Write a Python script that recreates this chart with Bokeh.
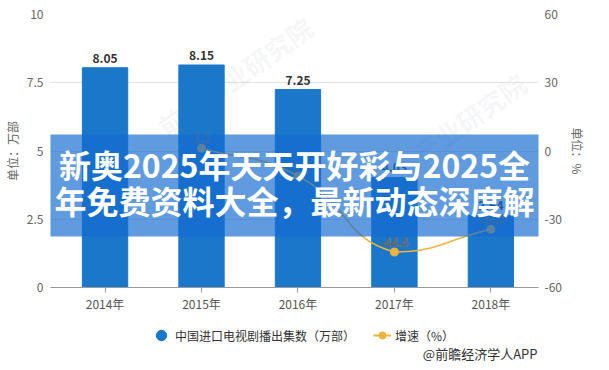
import math
from bokeh.plotting import figure
from bokeh.layouts import column
from bokeh.models import (Range1d, LinearAxis, Label, BoxAnnotation, Legend,
                          LegendItem, FixedTicker, ColumnDataSource)
from bokeh.core.properties import value
from bokeh.embed import file_html
from bokeh.resources import INLINE

# ---------------- data ----------------
years = ["2014年", "2015年", "2016年", "2017年", "2018年"]
counts = [8.05, 8.15, 7.25, 4.03, 2.64]
count_labels = ["8.05", "8.15", "7.25", "4.03", "2.64"]
growth_idx = [1, 2, 3, 4]
growth = [1.2, -11.0, -44.4, -34.4]
growth_labels = ["1.2", "-11", "-44.4", "-34.4"]
left_ticks = [0, 2.5, 5, 7.5, 10]
left_tick_labels = ["0", "2.5", "5", "7.5", "10"]
right_ticks = [-60, -30, 0, 30, 60]
right_tick_labels = ["-60", "-30", "0", "30", "60"]
series_names = ["中国进口电视剧播出集数（万部）", "增速（%）"]
left_unit = "单位：万部"
right_unit = "单位：%"
banner_lines = ["新奥2025年天天开好彩与2025全", "年免费资料大全，最新动态深度解"]
footer = "@前瞻经济学人APP"
watermark = "前瞻产业研究院"

# ---------------- style / layout ----------------
FONT = "Noto Sans CJK SC"
bar_color = "#1a77c9"
line_color = "#f0b43a"
W, H1, H2 = 593, 316, 46
BL, BR = 46, 55                 # side borders of the main plot
FL, FR = 8 + BL, 8 + W - BR     # frame edges in page pixels
PXX = 97.25                     # px per category step
X0 = -(109 - FL) / PXX
X1 = X0 + (FR - FL) / PXX
PXY = 273 / 10.0                # px per left-axis unit


def cx(px):   # page x -> data x (annotation placement)
    return X0 + (px - FL) / PXX


def cy(py):   # page y -> data y
    return (287 - py) / PXY


p = figure(width=W, height=H1, output_backend="svg", toolbar_location=None,
           x_range=Range1d(X0, X1), y_range=Range1d(0, 10),
           min_border_left=BL, min_border_right=BR, min_border_top=14,
           min_border_bottom=29)
p.outline_line_color = None
p.background_fill_color = "white"
p.extra_y_ranges = {"g": Range1d(-60, 60)}

xs = list(range(len(years)))

# watermarks (very faint)
for (wx, wy) in [(240, 76), (455, 132)]:
    p.add_layout(Label(x=cx(wx), y=cy(wy), text=watermark, angle=0.62,
                       text_align="center", text_baseline="middle",
                       text_font=FONT, text_font_size="26px", text_font_style="bold",
                       text_color="#9aa3ad", text_alpha=0.10, level="underlay"))

# bars
src = ColumnDataSource(dict(x=xs, top=counts, lab=count_labels))
p.vbar(x="x", top="top", width=0.47, source=src, color=bar_color)
p.text(x="x", y="top", text="lab", source=src, text_align="center",
       text_baseline="bottom", y_offset=-5, text_font=value(FONT),
       text_font_size="12px", text_font_style="bold", text_color="#333333")

# smooth growth line (echarts-like bezier through the data points)
gx = growth_idx
gy = growth
sx, sy = PXX, 273.0 / 120.0
smooth = 0.5
cps = []
n = len(gx)
for i in range(n):
    pi = (gx[i], gy[i])
    prev = (gx[i - 1], gy[i - 1]) if i > 0 else pi
    nxt = (gx[i + 1], gy[i + 1]) if i < n - 1 else pi
    vx, vy = (nxt[0] - prev[0]) * smooth, (nxt[1] - prev[1]) * smooth
    d0 = math.hypot((pi[0] - prev[0]) * sx, (pi[1] - prev[1]) * sy)
    d1 = math.hypot((nxt[0] - pi[0]) * sx, (nxt[1] - pi[1]) * sy)
    tot = d0 + d1 if d0 + d1 > 0 else 1
    cin = (pi[0] - vx * d0 / tot, pi[1] - vy * d0 / tot)
    cout = (pi[0] + vx * d1 / tot, pi[1] + vy * d1 / tot)
    cin = (cin[0], min(max(cin[1], min(pi[1], prev[1])), max(pi[1], prev[1])))
    cout = (cout[0], min(max(cout[1], min(pi[1], nxt[1])), max(pi[1], nxt[1])))
    cps.append((cin, cout))
bz = dict(x0=[], y0=[], x1=[], y1=[], cx0=[], cy0=[], cx1=[], cy1=[])
for i in range(n - 1):
    bz["x0"].append(gx[i]); bz["y0"].append(gy[i])
    bz["x1"].append(gx[i + 1]); bz["y1"].append(gy[i + 1])
    bz["cx0"].append(cps[i][1][0]); bz["cy0"].append(cps[i][1][1])
    bz["cx1"].append(cps[i + 1][0][0]); bz["cy1"].append(cps[i + 1][0][1])
p.bezier(x0="x0", y0="y0", x1="x1", y1="y1", cx0="cx0", cy0="cy0", cx1="cx1",
         cy1="cy1", source=ColumnDataSource(bz), line_color=line_color,
         line_width=1.6, y_range_name="g")
gsrc = ColumnDataSource(dict(x=gx, y=gy, lab=growth_labels))
p.scatter(x="x", y="y", source=gsrc, size=8, marker="circle",
          fill_color=line_color, line_color=line_color, y_range_name="g")
p.text(x="x", y="y", text="lab", source=gsrc, y_range_name="g", text_align="center",
       text_baseline="bottom", y_offset=-5, text_font=value(FONT),
       text_font_size="12px", text_color="#ffffff", text_outline_color="#5a6a7a")

# axes
p.xaxis.ticker = FixedTicker(ticks=xs)
p.xaxis.major_label_overrides = {i: y for i, y in enumerate(years)}
p.xaxis.axis_line_color = "#9a9a9a"
p.xaxis.major_tick_line_color = "#9a9a9a"
p.xaxis.major_tick_in = 0
p.xaxis.major_tick_out = 5
p.xaxis.minor_tick_line_color = None
p.xaxis.major_label_text_font = FONT
p.xaxis.major_label_text_font_size = "12px"
p.xaxis.major_label_text_color = "#555555"
p.xaxis.major_label_standoff = 2

p.yaxis.ticker = FixedTicker(ticks=left_ticks)
p.yaxis.major_label_overrides = {t: l for t, l in zip(left_ticks, left_tick_labels)}
ax_r = LinearAxis(y_range_name="g", ticker=FixedTicker(ticks=right_ticks))
ax_r.major_label_overrides = {t: l for t, l in zip(right_ticks, right_tick_labels)}
p.add_layout(ax_r, "right")
p.yaxis[0].axis_label = left_unit
ax_r.axis_label = right_unit
for ax in (p.yaxis[0], ax_r):
    ax.axis_line_color = None
    ax.major_tick_line_color = None
    ax.minor_tick_line_color = None
    ax.major_tick_out = 0
    ax.major_tick_in = 0
    ax.major_label_text_font = FONT
    ax.major_label_text_font_size = "12px"
    ax.major_label_text_color = "#666666"
    ax.axis_label_text_font = FONT
    ax.axis_label_text_font_size = "12px"
    ax.axis_label_text_font_style = "normal"
    ax.axis_label_text_color = "#666666"
p.yaxis[0].major_label_standoff = 7
p.yaxis[0].axis_label_standoff = 3
ax_r.major_label_standoff = 6
ax_r.axis_label_standoff = 4

p.xgrid.grid_line_color = None
p.ygrid.ticker = FixedTicker(ticks=left_ticks[1:])
p.ygrid.grid_line_color = "#e3e3e3"

# banner overlay
p.add_layout(BoxAnnotation(left=cx(0), right=cx(609), top=cy(134), bottom=cy(236),
                           fill_color="#146cd1", fill_alpha=0.68, line_color=None,
                           level="overlay"))
for txt, yy in zip(banner_lines, [163, 199]):
    p.add_layout(Label(x=cx((FL + FR) / 2), y=cy(yy), text=txt, text_align="center",
                       text_baseline="middle", text_font=FONT, text_font_size="32px",
                       text_font_style="bold", text_color="white", level="overlay"))

# ---------------- legend + footer strip ----------------
p2 = figure(width=W, height=H2, output_backend="svg", toolbar_location=None,
            x_range=Range1d(FL, FR), y_range=Range1d(0, H2), x_axis_type=None,
            y_axis_type=None, min_border=0)
p2.outline_line_color = None
p2.grid.grid_line_color = None
# legend proxies, kept outside the visible range
r_leg_bar = p2.scatter(x=[-999], y=[-999], marker="circle", size=13, color=bar_color)
r_leg_line = p2.line(x=[-999, -998], y=[-999, -999], line_color=line_color, line_width=2)
r_leg_pt = p2.scatter(x=[-999], y=[-999], marker="circle", size=8, color=line_color)
common = dict(orientation="horizontal", border_line_color=None, background_fill_alpha=0,
              label_text_font=FONT, label_text_font_size="12px",
              label_text_color="#333333", padding=2, margin=0)
leg_a = Legend(items=[LegendItem(label=series_names[0], renderers=[r_leg_bar])],
               location=(98, 11), glyph_width=26, glyph_height=32, label_standoff=1,
               **common)
leg_b = Legend(items=[LegendItem(label=series_names[1], renderers=[r_leg_line, r_leg_pt])],
               location=(323, 17), glyph_width=18, glyph_height=20, label_standoff=4,
               **common)
p2.add_layout(leg_a)
p2.add_layout(leg_b)
p2.add_layout(Label(x=FR - 1, y=9, text=footer, text_align="right", text_baseline="middle",
                    text_font=FONT, text_font_size="13px", text_color="#333333"))

open("out.html", "w").write(file_html(column(p, p2, spacing=0), INLINE))
